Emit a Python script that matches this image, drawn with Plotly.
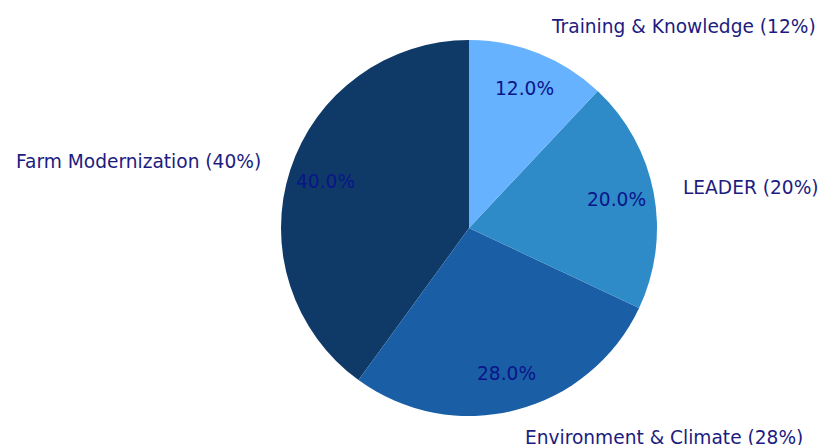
import math
import plotly.graph_objects as go

categories = ["Farm Modernization", "Environment & Climate", "LEADER", "Training & Knowledge"]
shares = [40, 28, 20, 12]
colors = ["#0f3a68", "#1a5ea6", "#2e8bc8", "#66b2ff"]

W, H = 822, 445
cx, cy, r = 469, 228, 188
label_dist = 1.15
pct_dist = 0.8

total = sum(shares)
# plotly counterclockwise: first slice is drawn clockwise from `rotation`;
# shift so the first slice ends at 12 o'clock (matplotlib startangle=90, counterclock)
rot = -shares[0] / total * 360

fig = go.Figure(go.Pie(
    labels=categories, values=shares, sort=False, direction="counterclockwise",
    rotation=rot, marker=dict(colors=colors, line=dict(width=0)),
    textinfo="none", hoverinfo="label+percent", showlegend=False,
    domain=dict(x=[(cx - r) / W, (cx + r) / W], y=[1 - (cy + r) / H, 1 - (cy - r) / H]),
))

start = 90.0
anns = []
for cat, v in zip(categories, shares):
    span = v / total * 360
    mid = math.radians(start + span / 2)
    start += span
    c, s = math.cos(mid), math.sin(mid)
    lx = (cx + label_dist * r * c) / W
    ly = 1 - (cy - label_dist * r * s) / H
    anns.append(dict(x=lx, y=ly, xref="paper", yref="paper", showarrow=False,
                     text=f"{cat} ({v}%)", xanchor="left" if c > 0 else "right",
                     yanchor="middle", font=dict(size=18.6, color="#1c1c80")))
    px = (cx + pct_dist * r * c) / W
    py = 1 - (cy - pct_dist * r * s) / H
    anns.append(dict(x=px, y=py, xref="paper", yref="paper", showarrow=False,
                     text=f"{v / total * 100:.1f}%", xanchor="center", yanchor="middle",
                     font=dict(size=18.6, color="#0a158a")))

fig.update_layout(
    width=W, height=H, margin=dict(l=0, r=0, t=0, b=0),
    paper_bgcolor="white", plot_bgcolor="white",
    font=dict(family="DejaVu Sans"),
    annotations=anns,
)
fig.write_html("out.html")
